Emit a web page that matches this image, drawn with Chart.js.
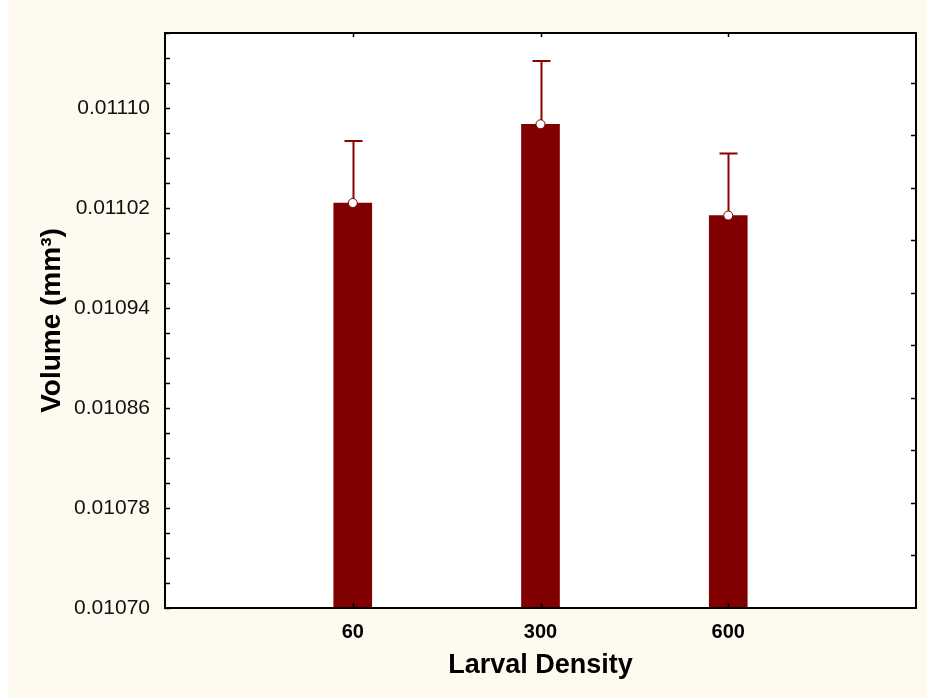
<!DOCTYPE html>
<html>
<head>
<meta charset="utf-8">
<script src="https://cdn.jsdelivr.net/npm/chart.js@4.4.0/dist/chart.umd.min.js"></script>
<style>
  html, body { margin: 0; padding: 0; background: #fffaf0; }
  #wrap { width: 927px; height: 698px; }
</style>
</head>
<body>
<div id="wrap"><canvas id="chartVolume" width="927" height="698"></canvas></div>
<script>
// values
const densities = ['60', '300', '600'];
const meanVolume = [0.011024, 0.011087, 0.011014];
const upperError = [0.0000496, 0.0000506, 0.0000497];
const yTicks = [0.01070, 0.01078, 0.01086, 0.01094, 0.01102, 0.01110];
const yMin = 0.01070;
const yMax = 0.01116;
const minorStep = 0.00002;   // left axis tick marks
const rightStep = 0.000042;  // right axis tick marks

const barColor = '#800000';
const frameFont = 'Arial, "Liberation Sans", sans-serif';

const points = densities.map((d, i) => ({ x: i + 1, y: meanVolume[i] }));

// cream page, white plot area, framed box with inward ticks
const framePlugin = {
    id: 'frame',
    beforeDraw(chart) {
        const { ctx, chartArea: a } = chart;
        ctx.save();
        ctx.fillStyle = '#fffaf0';
        ctx.fillRect(0, 0, chart.width, chart.height);
        ctx.fillStyle = '#ffffff';
        ctx.fillRect(0, 0, 8, chart.height);
        ctx.fillRect(a.left, a.top, a.right - a.left, a.bottom - a.top);
        ctx.restore();
    },
    afterDraw(chart) {
        const { ctx, chartArea: a, scales } = chart;
        const x = scales.x, y = scales.y;
        ctx.save();
        ctx.strokeStyle = '#000';
        ctx.lineWidth = 1.5;
        ctx.beginPath();
        for (let v = yMin; v <= yMax + 1e-9; v += minorStep) {
            const py = Math.round(y.getPixelForValue(v)) + 0.5;
            ctx.moveTo(a.left, py);
            ctx.lineTo(a.left + 5, py);
        }
        for (let v = yMin + rightStep; v <= yMax + 1e-9; v += rightStep) {
            const py = Math.round(y.getPixelForValue(v)) + 0.5;
            ctx.moveTo(a.right, py);
            ctx.lineTo(a.right - 5, py);
        }
        densities.forEach((d, i) => {
            const px = Math.round(x.getPixelForValue(i + 1)) + 0.5;
            ctx.moveTo(px, a.bottom);
            ctx.lineTo(px, a.bottom - 5);
            ctx.moveTo(px, a.top);
            ctx.lineTo(px, a.top + 4);
        });
        ctx.stroke();
        ctx.lineWidth = 2;
        ctx.strokeRect(a.left, a.top, a.right - a.left, a.bottom - a.top);
        ctx.restore();
    },
};

// upper whiskers, drawn right after the bars so the mean dots sit on top
const errorPlugin = {
    id: 'errorBars',
    afterDatasetDraw(chart, args) {
        if (args.index !== 1) return;
        const { ctx, scales } = chart;
        ctx.save();
        ctx.strokeStyle = '#8b0000';
        ctx.lineWidth = 2;
        ctx.beginPath();
        meanVolume.forEach((m, i) => {
            const px = Math.round(scales.x.getPixelForValue(i + 1)) + 0.5;
            const y0 = scales.y.getPixelForValue(m);
            const y1 = scales.y.getPixelForValue(m + upperError[i]);
            ctx.moveTo(px, y0);
            ctx.lineTo(px, y1);
            ctx.moveTo(px - 9, y1);
            ctx.lineTo(px + 9, y1);
        });
        ctx.stroke();
        ctx.restore();
    },
};

new Chart(document.getElementById('chartVolume'), {
    data: {
        datasets: [
            {
                type: 'scatter',
                data: points,
                pointRadius: 4.5,
                pointBackgroundColor: '#ffffff',
                pointBorderColor: barColor,
                pointBorderWidth: 1,
            },
            {
                type: 'bar',
                data: points,
                backgroundColor: barColor,
                barThickness: 38,
            },
        ],
    },
    options: {
        responsive: false,
        animation: false,
        layout: { padding: { left: 31, top: 33, right: 11, bottom: 12 } },
        plugins: { legend: { display: false }, tooltip: { enabled: false } },
        scales: {
            x: {
                type: 'linear',
                offset: false,
                min: 0,
                max: densities.length + 1,
                grid: { display: false, drawTicks: false, offset: false },
                border: { display: false },
                afterBuildTicks(s) {
                    s.ticks = densities.map((d, i) => ({ value: i + 1 }));
                },
                afterFit(s) { s.height = 78; },
                ticks: {
                    padding: 12,
                    color: '#000',
                    font: { family: frameFont, size: 20, weight: 'bold' },
                    callback: v => densities[v - 1] || '',
                },
                title: {
                    display: true,
                    text: 'Larval Density',
                    color: '#000',
                    font: { family: frameFont, size: 27, weight: 'bold' },
                },
            },
            y: {
                min: yMin,
                max: yMax,
                grid: { display: false, drawTicks: false },
                border: { display: false },
                afterBuildTicks(s) {
                    s.ticks = yTicks.map(v => ({ value: v }));
                },
                afterFit(s) { s.width = 134; },
                ticks: {
                    padding: 15,
                    color: '#111',
                    font: { family: frameFont, size: 21 },
                    callback: v => v.toFixed(5),
                },
                title: {
                    display: true,
                    text: 'Volume (mm³)',
                    color: '#000',
                    font: { family: frameFont, size: 28, weight: 'bold' },
                },
            },
        },
    },
    plugins: [framePlugin, errorPlugin],
});
</script>
</body>
</html>
